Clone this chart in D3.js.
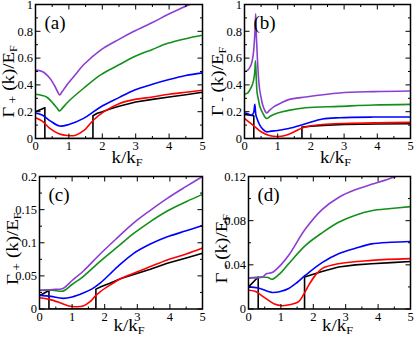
<!DOCTYPE html>
<html>
<head>
<meta charset="utf-8">
<script src="https://cdn.jsdelivr.net/npm/d3@7"></script>
<style>
  body { margin: 0; background: #fff; }
</style>
</head>
<body>
<div id="chart"></div>
<script>
// x ticks shared by all panels
const kTicks = [0, 1, 2, 3, 4, 5];

// y ticks for each panel
const yTicksA = [0, 0.2, 0.4, 0.6, 0.8, 1];
const yTicksB = [0, 0.2, 0.4, 0.6, 0.8, 1];
const yTicksC = [0, 0.05, 0.1, 0.15, 0.2];
const yTicksD = [0, 0.04, 0.08, 0.12];

// panel (a) Gamma+ , [k/kF, Gamma/EF]
const aPurple = [[0,0.51],[0.2,0.5],[0.43,0.45],[0.58,0.39],[0.66,0.35],[0.72,0.325],[0.8,0.35],[0.94,0.4],[1.19,0.475],[1.44,0.55],[1.95,0.66],[2.5,0.74],[2.95,0.8],[3.5,0.865],[3.96,0.925],[4.3,0.965],[4.62,1.0],[5,1.04]];
const aGreen = [[0,0.33],[0.33,0.31],[0.53,0.26],[0.65,0.225],[0.72,0.205],[0.8,0.225],[1.0,0.28],[1.44,0.375],[1.95,0.475],[2.5,0.55],[2.95,0.61],[3.5,0.665],[3.96,0.71],[4.5,0.745],[5,0.77]];
const aBlue = [[0,0.19],[0.2,0.175],[0.45,0.13],[0.72,0.093],[1.0,0.105],[1.44,0.15],[1.95,0.235],[2.5,0.305],[2.95,0.36],[3.5,0.405],[4,0.44],[4.5,0.47],[5,0.49]];
const aRed = [[0,0.155],[0.2,0.13],[0.43,0.075],[0.7,0.035],[0.95,0.022],[1.2,0.025],[1.45,0.06],[1.6,0.1],[1.75,0.14],[2.05,0.2],[2.5,0.26],[2.95,0.29],[3.5,0.31],[4,0.33],[4.5,0.345],[5,0.36]];
const aBlack = [[0,0.2],[0.28,0.23],[0.28,0],[1.72,0],[1.72,0.17],[1.85,0.188],[2,0.2],[2.25,0.222],[2.5,0.24],[3,0.272],[3.5,0.292],[4,0.31],[4.5,0.327],[5,0.345]];

// panel (b) Gamma-
const bPurple = [[0,0.5],[0.1,0.51],[0.2,0.55],[0.26,0.62],[0.29,0.7],[0.32,0.82],[0.337,0.93],[0.36,0.75],[0.39,0.59],[0.42,0.46],[0.46,0.36],[0.52,0.28],[0.56,0.24],[0.62,0.205],[0.67,0.19],[0.75,0.21],[0.9,0.24],[1.1,0.265],[1.33,0.29],[1.84,0.31],[2.86,0.34],[3.88,0.35],[5,0.355]];
const bGreen = [[0,0.33],[0.1,0.34],[0.2,0.38],[0.27,0.43],[0.31,0.5],[0.33,0.58],[0.355,0.45],[0.38,0.34],[0.42,0.29],[0.46,0.24],[0.55,0.19],[0.66,0.15],[0.8,0.17],[1,0.19],[1.33,0.21],[1.84,0.23],[2.86,0.24],[3.88,0.25],[5,0.255]];
const bBlue = [[0,0.19],[0.1,0.185],[0.2,0.175],[0.27,0.19],[0.31,0.255],[0.34,0.18],[0.36,0.16],[0.46,0.1],[0.55,0.07],[0.66,0.05],[0.8,0.055],[1,0.06],[1.33,0.075],[1.84,0.11],[2.35,0.145],[2.86,0.155],[3.88,0.16],[5,0.16]];
const bRed = [[0,0.15],[0.15,0.12],[0.3,0.09],[0.5,0.05],[0.75,0.022],[1,0.015],[1.25,0.025],[1.5,0.05],[1.75,0.08],[2,0.095],[2.35,0.105],[3,0.112],[4,0.117],[5,0.12]];
const bBlack = [[0,0.18],[0.28,0.17],[0.28,0],[1.73,0],[1.73,0.085],[2,0.092],[2.5,0.1],[3,0.105],[4,0.108],[5,0.11]];

// panel (c) Gamma+
const cPurple = [[0,0.0287],[0.4,0.0295],[0.72,0.031],[1.0,0.043],[1.34,0.057],[1.86,0.083],[2.4,0.108],[2.89,0.13],[3.4,0.149],[3.92,0.167],[4.5,0.185],[5,0.2]];
const cGreen = [[0,0.028],[0.4,0.0285],[0.72,0.027],[1.0,0.037],[1.34,0.049],[1.86,0.072],[2.4,0.094],[2.89,0.114],[3.4,0.132],[3.92,0.148],[4.5,0.162],[5,0.173]];
const cBlue = [[0,0.021],[0.35,0.019],[0.72,0.016],[1.0,0.018],[1.34,0.024],[1.6,0.03],[1.86,0.039],[2.4,0.064],[2.89,0.084],[3.4,0.098],[3.92,0.109],[4.5,0.118],[5,0.126]];
const cRed = [[0,0.017],[0.3,0.0145],[0.6,0.01],[0.9,0.0045],[1.1,0.0035],[1.34,0.0045],[1.55,0.011],[1.7,0.019],[1.86,0.026],[2.16,0.036],[2.5,0.046],[2.89,0.054],[3.4,0.064],[3.92,0.074],[4.5,0.083],[5,0.092]];
const cBlack = [[0,0.02],[0.29,0.028],[0.29,0],[1.73,0],[1.73,0.03],[1.9,0.034],[2.16,0.039],[2.5,0.046],[2.89,0.052],[3.4,0.06],[3.92,0.069],[4.5,0.077],[5,0.084]];

// panel (d) Gamma-
const dPurple = [[0,0.0282],[0.43,0.029],[0.55,0.032],[0.73,0.033],[1.0,0.04],[1.24,0.0486],[1.76,0.0726],[2.27,0.09],[2.78,0.101],[3.3,0.108],[3.8,0.113],[4.2,0.1165],[4.55,0.12],[5,0.123]];
const dGreen = [[0,0.028],[0.4,0.029],[0.6,0.0285],[0.73,0.027],[1.0,0.033],[1.24,0.041],[1.76,0.0576],[2.27,0.069],[2.78,0.0786],[3.3,0.085],[3.8,0.089],[4.4,0.091],[5,0.0927]];
const dBlue = [[0,0.02],[0.3,0.019],[0.73,0.015],[1.0,0.016],[1.24,0.0186],[1.5,0.024],[1.76,0.0306],[2.27,0.042],[2.78,0.05],[3.3,0.055],[3.8,0.059],[4.4,0.0605],[5,0.0612]];
const dRed = [[0,0.017],[0.2,0.016],[0.53,0.0096],[0.8,0.0045],[1.04,0.003],[1.3,0.004],[1.55,0.0066],[1.7,0.013],[1.86,0.0216],[2.05,0.03],[2.27,0.0366],[2.78,0.041],[3.8,0.044],[5,0.0456]];
const dBlack = [[0,0.02],[0.3,0.029],[0.3,0],[1.73,0],[1.73,0.029],[2.27,0.034],[2.78,0.038],[3.3,0.04],[3.8,0.041],[4.4,0.042],[5,0.043]];

const colors = { black: "#000000", red: "#ff0000", blue: "#0000ff", green: "#13901a", purple: "#8c3ed2" };
const serif = "'Liberation Serif', 'Times New Roman', Times, serif";

const W = 415, H = 337;
const svg = d3.select("#chart").append("svg")
    .attr("width", W).attr("height", H)
    .attr("font-family", serif);

// one box per panel (pixel edges of the frame)
const panels = [
  { id: "a", box: [35.5, 202.5, 4.5, 138.5], ymax: 1, yTicks: yTicksA, sign: "+", tOff: 24.5, lOff: 10,
    series: [["black", aBlack], ["red", aRed], ["blue", aBlue], ["green", aGreen], ["purple", aPurple]] },
  { id: "b", box: [244.5, 410.5, 4.5, 138.5], ymax: 1, yTicks: yTicksB, sign: "-", tOff: 24.5, lOff: 10,
    series: [["black", bBlack], ["red", bRed], ["blue", bBlue], ["green", bGreen], ["purple", bPurple]] },
  { id: "c", box: [39.5, 202.5, 176.5, 309], ymax: 0.2, yTicks: yTicksC, sign: "+", tOff: 22, lOff: 6,
    series: [["black", cBlack], ["red", cRed], ["blue", cBlue], ["green", cGreen], ["purple", cPurple]] },
  { id: "d", box: [248.5, 410.5, 176.5, 309], ymax: 0.12, yTicks: yTicksD, sign: "-", tOff: 22, lOff: 6,
    series: [["black", dBlack], ["red", dRed], ["blue", dBlue], ["green", dGreen], ["purple", dPurple]] }
];

panels.forEach(p => {
  const [x0, x1, y0, y1] = p.box;
  const x = d3.scaleLinear().domain([0, 5]).range([x0, x1]);
  const y = d3.scaleLinear().domain([0, p.ymax]).range([y1, y0]);
  const g = svg.append("g");

  g.append("clipPath").attr("id", "clip-" + p.id)
    .append("rect").attr("x", x0).attr("y", y0).attr("width", x1 - x0).attr("height", y1 - y0);

  const smooth = d3.line().x(d => x(d[0])).y(d => y(d[1]))
      .curve(d3.curveCatmullRom.alpha(0.5));
  const straight = d3.line().x(d => x(d[0])).y(d => y(d[1]));

  const curves = g.append("g").attr("clip-path", `url(#clip-${p.id})`);
  p.series.forEach(([c, data]) => {
    curves.append("path")
      .attr("d", c === "black" ? straight(data) : smooth(data))
      .attr("fill", "none")
      .attr("stroke", colors[c])
      .attr("stroke-width", 1.6)
      .attr("stroke-linejoin", "round");
  });

  // inward ticks on all four sides
  const yStep = p.yTicks[1] - p.yTicks[0];
  const yMinor = d3.range(0, p.ymax + 1e-9, yStep / 2);
  const kMinor = d3.range(0, 5.0001, 0.5);
  const tk = g.append("g").attr("stroke", "#000").attr("stroke-width", 1);
  kMinor.forEach(v => {
    const len = Math.abs(v - Math.round(v)) < 1e-6 ? 5 : 2.5;
    tk.append("line").attr("x1", x(v)).attr("x2", x(v)).attr("y1", y1).attr("y2", y1 - len);
    tk.append("line").attr("x1", x(v)).attr("x2", x(v)).attr("y1", y0).attr("y2", y0 + len);
  });
  yMinor.forEach((v, i) => {
    const len = i % 2 === 0 ? 5 : 2.5;
    tk.append("line").attr("y1", y(v)).attr("y2", y(v)).attr("x1", x0).attr("x2", x0 + len);
    tk.append("line").attr("y1", y(v)).attr("y2", y(v)).attr("x1", x1).attr("x2", x1 - len);
  });

  g.append("rect").attr("x", x0).attr("y", y0).attr("width", x1 - x0).attr("height", y1 - y0)
    .attr("fill", "none").attr("stroke", "#000").attr("stroke-width", 1.5);

  // tick labels
  g.selectAll(".xl").data(kTicks).join("text")
    .attr("x", d => x(d)).attr("y", y1 + 11.5)
    .attr("text-anchor", "middle").attr("font-size", 12.5).text(d => String(d));
  g.selectAll(".yl").data(p.yTicks).join("text")
    .attr("x", x0 - 2.5).attr("y", d => y(d) + 4.3)
    .attr("text-anchor", "end").attr("font-size", 12.5).text(d => String(d));

  // panel letter
  g.append("text").attr("x", x0 + 9).attr("y", y0 + 24)
    .attr("font-size", 19).text(`(${p.id})`);

  // axis titles
  const xt = g.append("text")
    .attr("transform", `translate(${(x0 + x1) / 2 + 8},${y1 + p.tOff}) scale(1.12,1)`)
    .attr("text-anchor", "middle").attr("font-size", 17);
  xt.append("tspan").text("k/k");
  xt.append("tspan").attr("font-size", 11).attr("dy", 3).text("F");

  const cy = (y0 + y1) / 2 + p.lOff;
  const yt = g.append("text")
    .attr("transform", `translate(${x0 - 22},${cy}) rotate(-90) scale(1.15,1)`)
    .attr("text-anchor", "middle").attr("font-size", 16.5);
  yt.append("tspan").text("Γ");
  yt.append("tspan").attr("font-size", 12).attr("dy", 3).text(p.sign === "+" ? " +" : " -");
  yt.append("tspan").attr("dy", -3).text(" (k)/E");
  yt.append("tspan").attr("font-size", 10.5).attr("dy", 3).text("F");
});
</script>
</body>
</html>
